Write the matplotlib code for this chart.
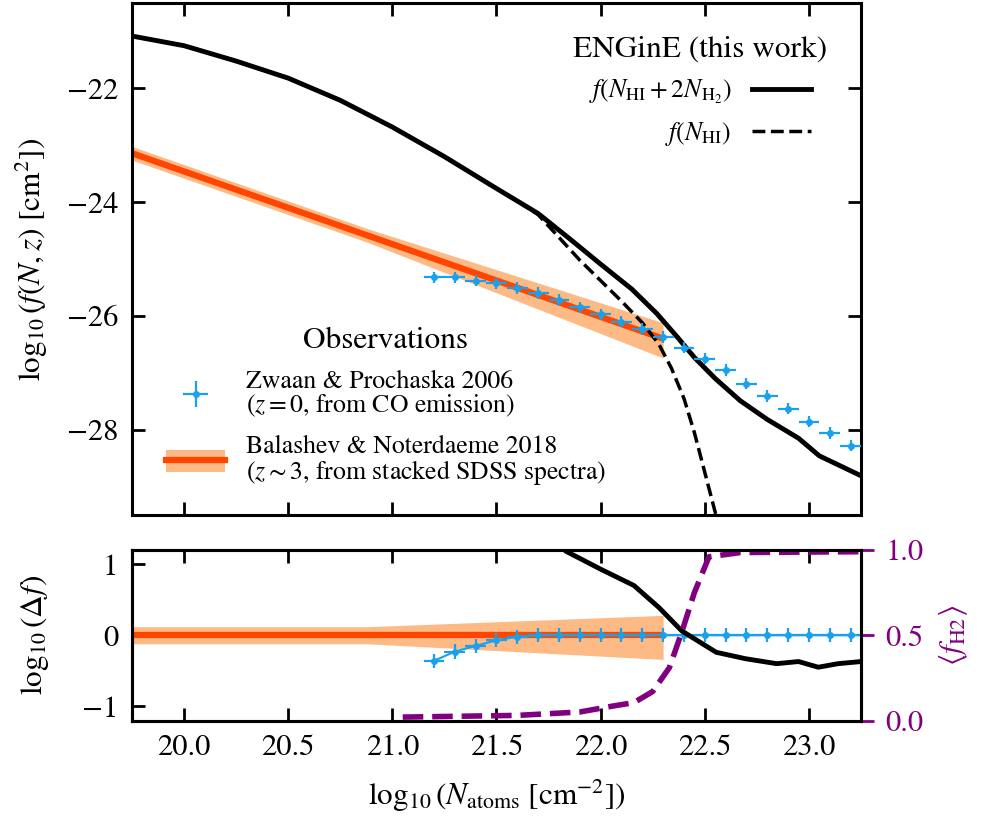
import numpy as np
import matplotlib
matplotlib.use("Agg")
import matplotlib.pyplot as plt
from matplotlib.patches import Patch
from matplotlib.lines import Line2D
from matplotlib.legend_handler import HandlerTuple, HandlerErrorbar

plt.rcParams['font.family'] = ['STIXGeneral', 'DejaVu Serif']
plt.rcParams['mathtext.fontset'] = 'stix'

# ENGinE: column-density distribution of all hydrogen atoms (HI + 2 H2)
tot_logN = [19.75, 20.0, 20.25, 20.5, 20.75, 21.0, 21.25, 21.5, 21.7, 21.85,
            22.0, 22.15, 22.27, 22.37, 22.45, 22.55, 22.67, 22.8, 22.95,
            23.05, 23.25]
tot_logf = [-21.08, -21.25, -21.52, -21.82, -22.21, -22.68, -23.20, -23.76,
            -24.20, -24.64, -25.09, -25.53, -25.96, -26.38, -26.73, -27.10,
            -27.49, -27.82, -28.15, -28.46, -28.81]

# ENGinE: atomic hydrogen only
hi_logN = [19.75, 20.0, 20.25, 20.5, 20.75, 21.0, 21.25, 21.5, 21.6, 21.7,
           21.8, 21.9, 22.0, 22.1, 22.2, 22.28, 22.34, 22.4, 22.45, 22.5,
           22.55, 22.58]
hi_logf = [-21.08, -21.25, -21.52, -21.82, -22.21, -22.68, -23.20, -23.76,
           -23.98, -24.22, -24.62, -25.02, -25.38, -25.74, -26.12, -26.50,
           -26.92, -27.45, -28.05, -28.75, -29.45, -29.90]

# Zwaan & Prochaska 2006 (z = 0, CO emission)
zp_logN = [21.2, 21.3, 21.4, 21.5, 21.6, 21.7, 21.8, 21.9, 22.0, 22.1, 22.2,
           22.3, 22.4, 22.5, 22.6, 22.7, 22.8, 22.9, 23.0, 23.1, 23.2, 23.3]
zp_logf = [-25.32, -25.32, -25.38, -25.43, -25.51, -25.60, -25.72, -25.85,
           -25.97, -26.10, -26.23, -26.37, -26.56, -26.75, -26.95, -27.19,
           -27.41, -27.63, -27.86, -28.06, -28.28, -28.49]
zp_dlogf = [-0.36, -0.23, -0.15, -0.07, -0.02, 0.0, 0.0, 0.0, 0.0, 0.0, 0.0,
            0.0, 0.0, 0.0, 0.0, 0.0, 0.0, 0.0, 0.0, 0.0, 0.0, 0.0]

# Balashev & Noterdaeme 2018 (z ~ 3, stacked SDSS spectra)
bn_logN = [19.75, 20.88, 22.3]
bn_logf = [-23.14, -24.585, -26.40]
bn_err_lo = [0.12, 0.12, 0.34]
bn_err_hi = [0.12, 0.12, 0.28]

# ENGinE relative to the observations
res_logN = [21.70, 21.835, 22.0, 22.16, 22.28, 22.39, 22.555, 22.695, 22.845,
            22.95, 23.045, 23.14, 23.25]
res_dlogf = [1.50, 1.18, 0.93, 0.70, 0.39, 0.06, -0.24, -0.33, -0.40, -0.37,
             -0.45, -0.40, -0.37]

# mean molecular fraction
fh2_logN = [21.05, 21.6, 21.9, 22.06, 22.16, 22.25, 22.33, 22.39, 22.45,
            22.52, 22.67, 23.25]
fh2_mean = [0.02, 0.03, 0.05, 0.085, 0.105, 0.17, 0.31, 0.52, 0.75, 0.96,
            0.985, 0.99]

c_zp = '#1AA1EB'
c_bn_line = '#FF4500'
c_bn_band = '#FDBA85'
c_fh2 = 'purple'

fs_tick = 22
fs_label = 22.5
fs_entry = 18.5
fs_title = 22.5

fig = plt.figure(figsize=(9.84, 8.21), dpi=100)
ax1 = fig.add_axes([0.1341, 0.3727, 0.7409, 0.6236])
ax2 = fig.add_axes([0.1341, 0.1224, 0.7409, 0.2077])

bn_logN_a = np.array(bn_logN)
bn_logf_a = np.array(bn_logf)
lo = np.array(bn_err_lo)
hi = np.array(bn_err_hi)

# --- upper panel ---
ax1.fill_between(bn_logN_a, bn_logf_a - lo, bn_logf_a + hi,
                 color=c_bn_band, lw=0, zorder=1)
ax1.plot(bn_logN, bn_logf, color=c_bn_line, lw=4.5,
         solid_capstyle='butt', zorder=2)
h_tot, = ax1.plot(tot_logN, tot_logf, color='k', lw=3.5, zorder=3)
h_hi, = ax1.plot(hi_logN, hi_logf, color='k', ls='--', lw=2.5, zorder=3)
h_zp = ax1.errorbar(zp_logN, zp_logf, xerr=0.05, yerr=0.1, fmt='o',
                    ms=4, color=c_zp, ecolor=c_zp, elinewidth=1.6,
                    capsize=0, zorder=4)

ax1.set_xlim(19.75, 23.25)
ax1.set_ylim(-29.5, -20.5)
ax1.set_yticks([-28, -26, -24, -22])
ax1.set_xticks([20.0, 20.5, 21.0, 21.5, 22.0, 22.5, 23.0])
ax1.tick_params(axis='both', which='both', direction='in', top=True,
                right=True, length=9.5, width=2, labelsize=fs_tick, pad=10)
ax1.tick_params(axis='x', labelbottom=False)
ax1.set_ylabel(r'$\log_{10}(f(N,z)\ [\mathrm{cm}^2])$', fontsize=fs_label,
               labelpad=12)

leg1 = ax1.legend([h_tot, h_hi],
                  [r'$f(N_{\mathrm{HI}}+2N_{\mathrm{H}_2})$',
                   r'$f(N_{\mathrm{HI}})$'],
                  loc='upper right', bbox_to_anchor=(0.985, 0.981),
                  frameon=False, markerfirst=False, fontsize=fs_entry,
                  title='ENGinE (this work)', title_fontsize=fs_title,
                  handlelength=2.3, handletextpad=0.8, labelspacing=0.55)
ax1.add_artist(leg1)

band_handle = Patch(facecolor=c_bn_band, edgecolor='none')
line_handle = Line2D([], [], color=c_bn_line, lw=4.5)
leg2 = ax1.legend([h_zp, (band_handle, line_handle)],
                  ['Zwaan & Prochaska 2006\n($z = 0$, from CO emission)',
                   'Balashev & Noterdaeme 2018\n'
                   r'($z \sim 3$, from stacked SDSS spectra)'],
                  loc='lower left', bbox_to_anchor=(0.015, 0.01),
                  frameon=False, fontsize=fs_entry,
                  title='Observations', title_fontsize=fs_title,
                  handlelength=2.3, handletextpad=0.8, handleheight=0.9,
                  labelspacing=0.6,
                  handler_map={tuple: HandlerTuple(ndivide=1),
                               type(h_zp): HandlerErrorbar(xerr_size=0.5)})
for t in leg2.get_texts():
    t.set_linespacing(0.95)

# --- lower panel ---
ax2.fill_between(bn_logN_a, -lo, hi, color=c_bn_band, lw=0, zorder=1)
ax2.plot(bn_logN, np.zeros(len(bn_logN)), color=c_bn_line, lw=4.5,
         solid_capstyle='butt', zorder=2)
ax2.errorbar(zp_logN, zp_dlogf, xerr=0.05, yerr=0.1, fmt='o-', ms=4,
             lw=1.5, color=c_zp, ecolor=c_zp, elinewidth=1.6, capsize=0,
             zorder=3)
ax2.plot(res_logN, res_dlogf, color='k', lw=3.5, zorder=4)

ax2.set_xlim(19.75, 23.25)
ax2.set_ylim(-1.2, 1.2)
ax2.set_yticks([-1, 0, 1])
ax2.set_xticks([20.0, 20.5, 21.0, 21.5, 22.0, 22.5, 23.0])
ax2.set_xticklabels(['20.0', '20.5', '21.0', '21.5', '22.0', '22.5', '23.0'])
ax2.tick_params(axis='both', which='both', direction='in', top=True,
                right=False, length=9.5, width=2, labelsize=fs_tick, pad=10)
ax2.set_ylabel(r'$\log_{10}(\Delta f)$', fontsize=fs_label, labelpad=22)
ax2.set_xlabel(r'$\log_{10}(N_{\mathrm{atoms}}\ [\mathrm{cm}^{-2}])$',
               fontsize=fs_label, labelpad=11)

ax3 = ax2.twinx()
ax3.plot(fh2_logN, fh2_mean, color=c_fh2, ls='--', lw=4)
ax3.set_ylim(0, 1)
ax3.set_yticks([0.0, 0.5, 1.0])
ax3.set_yticklabels(['0.0', '0.5', '1.0'])
ax3.tick_params(axis='y', direction='out', length=9.5, width=2,
                colors=c_fh2, labelsize=fs_tick, pad=8)
ax3.set_ylabel(r'$\langle f_{\mathrm{H2}}\rangle$', color=c_fh2,
               fontsize=fs_label, labelpad=10)

for ax in (ax1, ax2, ax3):
    for sp in ax.spines.values():
        sp.set_linewidth(2.2)
        sp.set_color('k')

fig.savefig('out.png', dpi=100)
